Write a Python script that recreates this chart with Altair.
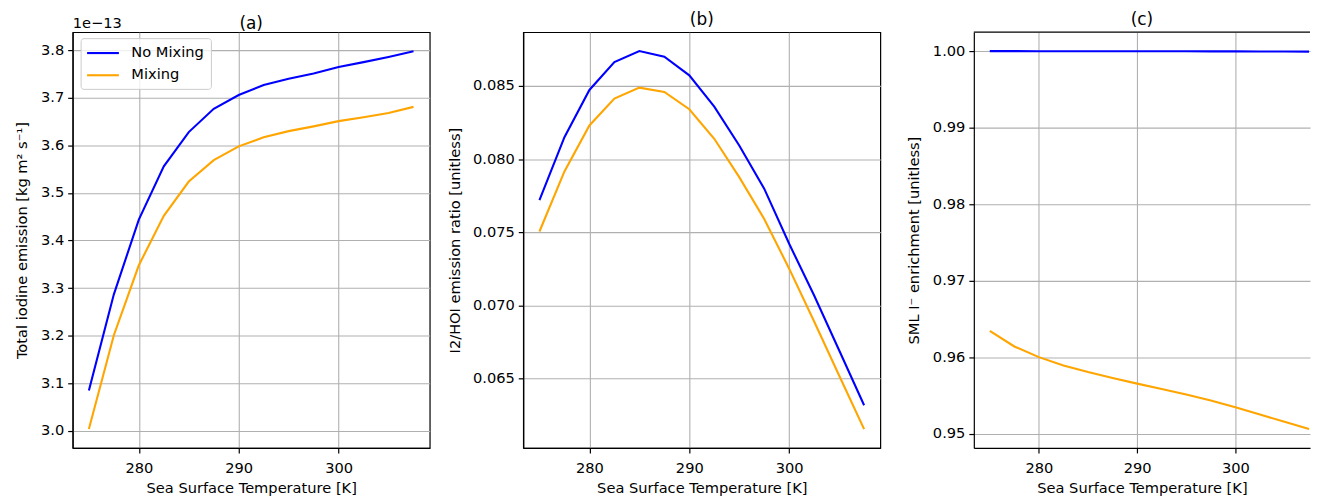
import altair as alt
import pandas as pd

FONT = "DejaVu Sans"

# ---------------- data ----------------
temps = [275, 277.5, 280, 282.5, 285, 287.5, 290, 292.5, 295, 297.5, 300, 302.5, 305, 307.5]
series_names = ["No Mixing", "Mixing"]
series_colors = ["blue", "orange"]

# (a) total iodine emission, in units of 1e-13 kg m2 s-1
emission_no_mixing = [3.085, 3.287, 3.444, 3.556, 3.628, 3.677, 3.706, 3.727, 3.740, 3.751, 3.765, 3.775, 3.786, 3.798]
emission_mixing = [3.004, 3.201, 3.348, 3.452, 3.524, 3.569, 3.598, 3.617, 3.630, 3.640, 3.651, 3.659, 3.668, 3.681]

# (b) I2/HOI emission ratio
ratio_no_mixing = [0.07720, 0.08150, 0.08473, 0.08664, 0.08739, 0.08700, 0.08573, 0.08359, 0.08093, 0.07798, 0.07421, 0.07067, 0.06693, 0.06317]
ratio_mixing = [0.07505, 0.07916, 0.08230, 0.08414, 0.08489, 0.08459, 0.08341, 0.08139, 0.07877, 0.07591, 0.07251, 0.06890, 0.06520, 0.06154]

# (c) SML iodide enrichment
enrich_no_mixing = [1.00000, 1.00000, 0.99999, 0.99999, 0.99999, 0.99998, 0.99998, 0.99997, 0.99997, 0.99996, 0.99996, 0.99995, 0.99994, 0.99993]
enrich_mixing = [0.96346, 0.96143, 0.96004, 0.95896, 0.95810, 0.95732, 0.95658, 0.95589, 0.95515, 0.95437, 0.95351, 0.95255, 0.95160, 0.95065]

panel_titles = ["(a)", "(b)", "(c)"]
y_titles = [
    "Total iodine emission [kg m² s⁻¹]",
    "I2/HOI emission ratio [unitless]",
    "SML I⁻ enrichment [unitless]",
]
x_title = "Sea Surface Temperature [K]"
x_ticks = [280, 290, 300]
a_ticks = [3.0, 3.1, 3.2, 3.3, 3.4, 3.5, 3.6, 3.7, 3.8]
b_ticks = [0.065, 0.070, 0.075, 0.080, 0.085]
c_ticks = [0.95, 0.96, 0.97, 0.98, 0.99, 1.00]
offset_label = ["1e−13"]

W = 359
H = 418
WC = 338


def long_df(v1, v2):
    n = len(temps)
    return pd.DataFrame({
        "T": temps + temps,
        "v": v1 + v2,
        "series": [series_names[0]] * n + [series_names[1]] * n,
    })


def lines(df, ytitle, ydomain, yticks, yfmt, extent, width, xdomain, legend):
    color = alt.Color(
        "series:N",
        scale=alt.Scale(domain=series_names, range=series_colors),
        legend=legend,
    )
    return alt.Chart(df).mark_line(strokeWidth=2.1).encode(
        x=alt.X("T:Q", scale=alt.Scale(domain=xdomain, nice=False, zero=False),
                axis=alt.Axis(values=x_ticks, format="d", title=x_title)),
        y=alt.Y("v:Q", scale=alt.Scale(domain=ydomain, nice=False, zero=False),
                axis=alt.Axis(values=yticks, format=yfmt, title=ytitle,
                              minExtent=extent, maxExtent=extent, titlePadding=7)),
        color=color,
    ).properties(width=width, height=H)


legend_a = alt.Legend(
    title=None, orient="none", legendX=8, legendY=6,
    fillColor="rgba(255,255,255,0.8)", strokeColor="#cccccc", cornerRadius=3,
    padding=6.5, symbolType="M-2.286,0H2.286", symbolSize=196, symbolOffset=7.5,
    symbolStrokeWidth=2.1,
    labelFont=FONT, labelFontSize=14.7, labelColor="black", labelOffset=20,
    rowPadding=6.3,
)

xdom = [273.375, 309.125]
xdom_c = [273.375, 307.6]

line_a = lines(long_df(emission_no_mixing, emission_mixing), y_titles[0],
               [2.964, 3.838], a_ticks, ".1f", 36, W, xdom, legend_a)
offset_text = alt.Chart(pd.DataFrame({"t": offset_label})).mark_text(
    align="left", baseline="alphabetic", font=FONT, fontSize=14.7, color="black"
).encode(x=alt.value(0), y=alt.value(-4), text="t:N")
panel_a = alt.layer(line_a, offset_text).properties(
    width=W, height=H, title=alt.TitleParams(panel_titles[0], offset=-17)
)

panel_b = lines(long_df(ratio_no_mixing, ratio_mixing), y_titles[1],
                [0.06025, 0.08868], b_ticks, ".3f", 54, W, xdom, None).properties(
    title=panel_titles[1]
)

line_c = lines(long_df(enrich_no_mixing, enrich_mixing), y_titles[2],
               [0.94818, 1.00247], c_ticks, ".2f", 46, WC, xdom_c, None)
top_spine = alt.Chart(pd.DataFrame({"s": [0]})).mark_rule(color="black", strokeWidth=1.2).encode(
    x=alt.value(0), x2=alt.value(WC), y=alt.value(0)
)
panel_c = alt.layer(line_c, top_spine).properties(
    width=WC, height=H, title=panel_titles[2],
    view=alt.ViewBackground(stroke="transparent")
)

inner = alt.hconcat(panel_a, panel_b, spacing=16).resolve_scale(color="independent")
chart = alt.hconcat(inner, panel_c, spacing=24).resolve_scale(color="independent").properties(
    padding={"left": 6, "top": 0, "right": 0, "bottom": 0}
).configure_view(
    stroke="black", strokeWidth=1.2
).configure_axis(
    grid=True, gridColor="#b0b0b0", gridWidth=1.1, gridOpacity=1,
    domainColor="black", domainWidth=1.2,
    tickColor="black", tickWidth=1.2, tickSize=5,
    labelFont=FONT, labelFontSize=14.7, labelColor="black",
    titleFont=FONT, titleFontSize=14.7, titleFontWeight="normal", titleColor="black",
).configure_axisX(
    labelPadding=8, titlePadding=5
).configure_axisY(
    labelPadding=4
).configure_title(
    font=FONT, fontSize=17, fontWeight="normal", color="black",
    anchor="middle", baseline="alphabetic", offset=3
).configure_legend(
    strokeWidth=1
)

chart.save("out.html", embed_options={"renderer": "svg", "actions": False})
